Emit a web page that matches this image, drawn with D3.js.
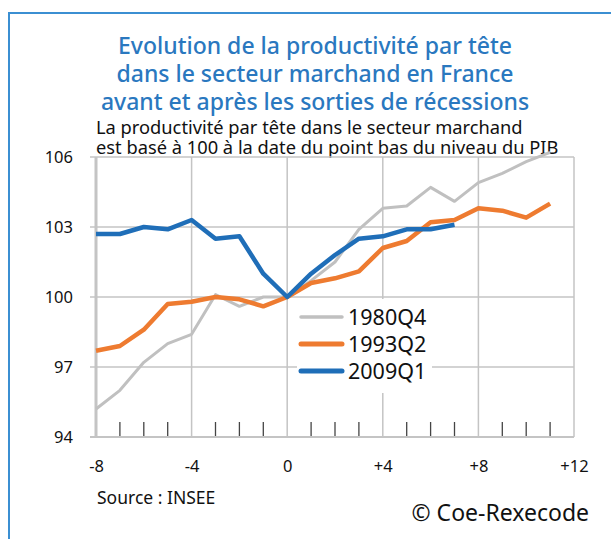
<!DOCTYPE html>
<html>
<head>
<meta charset="utf-8">
<script src="https://cdn.jsdelivr.net/npm/d3@7"></script>
<style>
  body { margin: 0; background: #fff; }
  svg { display: block; font-family: "Noto Sans", sans-serif; }
</style>
</head>
<body>
<div id="chart"></div>
<script>
// Quarters relative to the trough of GDP
const quarters = [-8, -7, -6, -5, -4, -3, -2, -1, 0, 1, 2, 3, 4, 5, 6, 7, 8, 9, 10, 11];

// Productivity per head, base 100 at the trough
const s1980 = [95.2, 96.0, 97.2, 98.0, 98.4, 100.1, 99.6, 100.0, 100.0, 100.7, 101.5, 102.9, 103.8, 103.9, 104.7, 104.1, 104.9, 105.3, 105.8, 106.2];
const s1993 = [97.7, 97.9, 98.6, 99.7, 99.8, 100.0, 99.9, 99.6, 100.0, 100.6, 100.8, 101.1, 102.1, 102.4, 103.2, 103.3, 103.8, 103.7, 103.4, 104.0];
const s2009 = [102.7, 102.7, 103.0, 102.9, 103.3, 102.5, 102.6, 101.0, 100.0, 101.0, 101.8, 102.5, 102.6, 102.9, 102.9, 103.1];

const seriesNames = ['1980Q4', '1993Q2', '2009Q1'];
const seriesColors = ['#c0c0c0', '#ee7b30', '#1f6eb8'];
const seriesWidths = [3, 4.5, 4.5];

const xTicks = [-8, -4, 0, 4, 8, 12];
const yTicks = [94, 97, 100, 103, 106];

const width = 611;
const height = 539;
const margin = { top: 157, right: 37, bottom: 102, left: 96 };
const innerWidth = width - margin.left - margin.right;
const innerHeight = height - margin.top - margin.bottom;

const svg = d3.select('#chart')
  .append('svg')
  .attr('width', width)
  .attr('height', height);

// frame (top and left border only)
svg.append('path')
  .attr('d', `M9,${height} V13 H${width}`)
  .attr('fill', 'none')
  .attr('stroke', '#3b8fd2')
  .attr('stroke-width', 2);

// title
const titleLines = [
  'Evolution de la productivité par tête',
  'dans le secteur marchand en France',
  'avant et après les sorties de récessions'
];
svg.append('g')
  .selectAll('text')
  .data(titleLines)
  .enter()
  .append('text')
  .attr('x', 315)
  .attr('y', (d, i) => 54 + i * 28)
  .attr('text-anchor', 'middle')
  .attr('fill', '#2a78bf')
  .attr('font-size', 23)
  .attr('font-weight', 500)
  .text((d) => d);

// subtitle
const subLines = [
  'La productivité par tête dans le secteur marchand',
  'est basé à 100 à la date du point bas du niveau du PIB'
];
svg.append('g')
  .selectAll('text')
  .data(subLines)
  .enter()
  .append('text')
  .attr('x', 96)
  .attr('y', (d, i) => 134 + i * 20)
  .attr('fill', '#111')
  .attr('font-size', 18.3)
  .text((d) => d);

const x = d3.scaleLinear().domain([-8, 12]).range([0, innerWidth]);
const y = d3.scaleLinear().domain([94, 106]).range([innerHeight, 0]);

const g = svg.append('g')
  .attr('transform', `translate(${margin.left},${margin.top})`);

// grid
g.append('g')
  .selectAll('line')
  .data(yTicks.slice(1))
  .enter()
  .append('line')
  .attr('x1', -6)
  .attr('x2', innerWidth)
  .attr('y1', (d) => y(d))
  .attr('y2', (d) => y(d))
  .attr('stroke', '#c4c4c4')
  .attr('stroke-width', 1.5);

g.append('g')
  .selectAll('line')
  .data(xTicks.slice(1))
  .enter()
  .append('line')
  .attr('x1', (d) => x(d))
  .attr('x2', (d) => x(d))
  .attr('y1', 0)
  .attr('y2', innerHeight)
  .attr('stroke', '#c4c4c4')
  .attr('stroke-width', 1.5);

// minor ticks on x axis
g.append('g')
  .selectAll('line')
  .data(quarters.filter((q) => q % 4 !== 0))
  .enter()
  .append('line')
  .attr('x1', (d) => x(d))
  .attr('x2', (d) => x(d))
  .attr('y1', innerHeight - 15)
  .attr('y2', innerHeight)
  .attr('stroke', '#444')
  .attr('stroke-width', 1.3);

// axes lines
g.append('line')
  .attr('x1', -6).attr('x2', innerWidth)
  .attr('y1', innerHeight).attr('y2', innerHeight)
  .attr('stroke', '#c4c4c4').attr('stroke-width', 2);
g.append('line')
  .attr('x1', 0).attr('x2', 0)
  .attr('y1', 0).attr('y2', innerHeight)
  .attr('stroke', '#c4c4c4').attr('stroke-width', 3);

// axis labels
const yAxis = d3.axisLeft(y).tickValues(yTicks).tickSize(0).tickPadding(23);
g.append('g').call(yAxis)
  .call((a) => a.select('.domain').remove())
  .selectAll('text')
  .attr('font-size', 16.5)
  .attr('font-family', 'Noto Sans, sans-serif')
  .attr('fill', '#111');

const xAxis = d3.axisBottom(x).tickValues(xTicks).tickSize(0).tickPadding(23)
  .tickFormat((d) => (d > 0 ? '+' + d : d));
g.append('g')
  .attr('transform', `translate(0,${innerHeight})`)
  .call(xAxis)
  .call((a) => a.select('.domain').remove())
  .selectAll('text')
  .attr('font-size', 16.5)
  .attr('font-family', 'Noto Sans, sans-serif')
  .attr('fill', '#111');

// lines
const line = d3.line()
  .x((d, i) => x(quarters[i]))
  .y((d) => y(d));

[s1980, s1993, s2009].forEach((s, i) => {
  g.append('path')
    .datum(s)
    .attr('fill', 'none')
    .attr('stroke', seriesColors[i])
    .attr('stroke-width', seriesWidths[i])
    .attr('stroke-linejoin', 'round')
    .attr('d', line);
});

// legend
const legend = svg.append('g').attr('transform', 'translate(297,299)');
legend.append('rect')
  .attr('width', 135)
  .attr('height', 94)
  .attr('fill', '#fff');
const items = legend.selectAll('g.item')
  .data(seriesNames)
  .enter()
  .append('g')
  .attr('transform', (d, i) => `translate(0,${18 + i * 27})`);
items.append('line')
  .attr('x1', 4).attr('x2', 45)
  .attr('stroke', (d, i) => seriesColors[i])
  .attr('stroke-width', (d, i) => seriesWidths[i] + 0.5)
  .attr('stroke-linecap', 'round');
items.append('text')
  .attr('x', 51)
  .attr('y', 8)
  .attr('font-size', 21.5)
  .attr('fill', '#111')
  .text((d) => d);

// footer
svg.append('text')
  .attr('x', 97).attr('y', 504)
  .attr('font-size', 17.5)
  .attr('fill', '#111')
  .text('Source : INSEE');
svg.append('text')
  .attr('x', 589).attr('y', 521)
  .attr('text-anchor', 'end')
  .attr('font-size', 23)
  .attr('fill', '#111')
  .text('© Coe-Rexecode');
</script>
</body>
</html>
